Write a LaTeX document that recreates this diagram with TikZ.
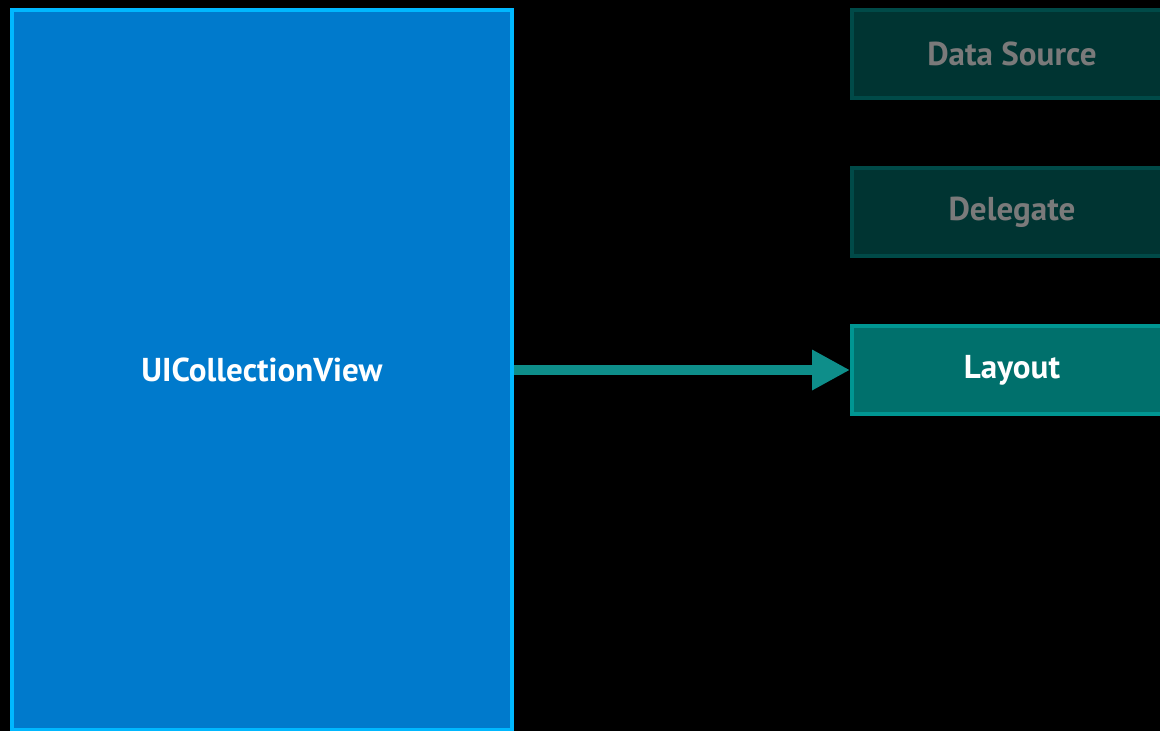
\documentclass[tikz,border=0pt]{standalone}
\usepackage{fontspec}
\setmainfont{PT Sans}
\usepackage{xcolor}
\usepackage{tikz}
\usetikzlibrary{arrows.meta, positioning}

\definecolor{viewfill}{RGB}{0,122,204}
\definecolor{viewline}{RGB}{0,184,255}
\definecolor{dimfill}{RGB}{0,52,50}
\definecolor{dimline}{RGB}{0,74,72}
\definecolor{dimtext}{RGB}{122,122,122}
\definecolor{layfill}{RGB}{0,112,108}
\definecolor{layline}{RGB}{0,150,146}
\definecolor{arrowcol}{RGB}{14,142,138}

\begin{document}
\begin{tikzpicture}[x=0.75pt, y=-0.75pt,
  box/.style={draw, line width=3pt, inner sep=0pt, font=\fontsize{24.8}{29}\selectfont\bfseries},
  dimbox/.style={box, draw=dimline, fill=dimfill, text=dimtext, minimum width=240pt, minimum height=66pt},
  litbox/.style={box, draw=layline, fill=layfill, text=white, minimum width=240pt, minimum height=66pt}]
  % background
  \fill[black] (0,0) rectangle (1160,731);
  \useasboundingbox (0,0) rectangle (1160,731);
  % main view
  \node[box, draw=viewline, fill=viewfill, text=white,
    minimum width=375pt, minimum height=540pt] (colview) at (262,370) {UICollectionView};
  % side objects
  \node[dimbox] (datasrc) at (1012,54) {Data Source};
  \node[dimbox] (delegate) at (1012,212) {Delegate};
  \node[litbox] (layout) at (1012,370) {Layout};
  % arrow
  \draw[arrowcol, line width=7.5pt, -{Triangle[length=28.5pt, width=28.5pt]}]
    (colview.east) -- (layout.west);
\end{tikzpicture}
\end{document}
